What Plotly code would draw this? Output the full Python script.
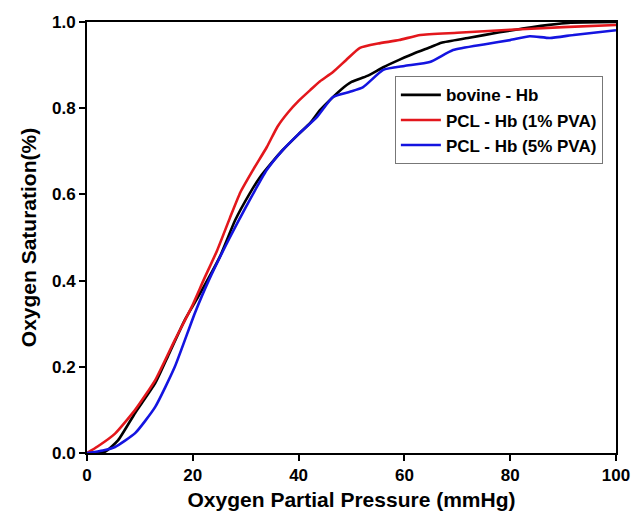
import plotly.graph_objects as go

bovine_x = [0, 3.4, 5.9, 9.1, 12.9, 15.5, 18.5, 21, 25.1, 28, 30.8, 32.7, 35, 37, 40, 42.2, 44, 46, 48, 50, 53, 56, 59, 62, 65, 67, 72, 78, 84, 91, 100]
bovine_y = [0, 0.003, 0.03, 0.093, 0.162, 0.23, 0.309, 0.362, 0.455, 0.54, 0.603, 0.64, 0.675, 0.703, 0.74, 0.766, 0.795, 0.82, 0.843, 0.861, 0.875, 0.895, 0.912, 0.928, 0.942, 0.952, 0.963, 0.976, 0.988, 0.998, 1.0]

pva1_x = [0, 2, 5.3, 9.1, 12.9, 16.6, 19.8, 22, 24.6, 27, 29, 31.4, 34, 36, 38, 40, 42.2, 44, 46.5, 49, 51.6, 55, 59, 63, 70, 80, 90, 100]
pva1_y = [0, 0.015, 0.045, 0.1, 0.169, 0.262, 0.339, 0.4, 0.47, 0.545, 0.605, 0.657, 0.71, 0.757, 0.79, 0.817, 0.842, 0.862, 0.884, 0.912, 0.94, 0.95, 0.958, 0.97, 0.975, 0.982, 0.988, 0.993]

pva5_x = [0, 3, 5.3, 9.1, 12.9, 16.6, 20.4, 23, 27, 30, 34, 37, 40, 43.5, 46.5, 49.7, 52.2, 56, 60, 64.8, 69.2, 75, 80, 83.7, 87.5, 92, 100]
pva5_y = [0, 0.006, 0.014, 0.046, 0.107, 0.2, 0.325, 0.4, 0.5, 0.57, 0.657, 0.703, 0.74, 0.78, 0.826, 0.838, 0.849, 0.889, 0.898, 0.907, 0.935, 0.948, 0.958, 0.967, 0.963, 0.97, 0.981]

x_ticks = [0, 20, 40, 60, 80, 100]
y_ticks = [0, 0.2, 0.4, 0.6, 0.8, 1.0]
y_tick_text = ["0.0", "0.2", "0.4", "0.6", "0.8", "1.0"]

names = ["bovine - Hb", "PCL - Hb (1% PVA)", "PCL - Hb (5% PVA)"]
colors = ["#000000", "#e3171c", "#1414e0"]

fig = go.Figure()
for (xs, ys), name, c in zip([(bovine_x, bovine_y), (pva1_x, pva1_y), (pva5_x, pva5_y)], names, colors):
    fig.add_trace(go.Scatter(x=xs, y=ys, mode="lines", name=name,
                             line=dict(color=c, width=2.6, shape="spline", smoothing=0.5)))

font_family = "Liberation Sans, Arial, sans-serif"
fig.update_layout(
    width=634, height=519,
    margin=dict(l=87, r=18, t=22, b=66, autoexpand=False),
    paper_bgcolor="white", plot_bgcolor="white",
    font=dict(family=font_family, color="black"),
    showlegend=True,
    legend=dict(x=0.582, y=0.874, xanchor="left", yanchor="top",
                bordercolor="#777777", borderwidth=1, bgcolor="white",
                font=dict(size=17, family=font_family, weight="bold"),
                tracegroupgap=0, itemwidth=40),
)
fig.update_xaxes(range=[0, 100], tickvals=x_ticks, automargin=False,
                 showgrid=False, zeroline=False, showline=True, linecolor="black", linewidth=2,
                 mirror=True, ticks="outside", ticklen=6, tickwidth=2, tickcolor="black",
                 tickfont=dict(size=17, family=font_family, weight="bold"),
                 title=dict(text="Oxygen Partial Pressure (mmHg)", font=dict(size=21, family=font_family, weight="bold"), standoff=8))
fig.update_yaxes(range=[0, 1.0], tickvals=y_ticks, ticktext=y_tick_text, automargin=False,
                 showgrid=False, zeroline=False, showline=True, linecolor="black", linewidth=2,
                 mirror=True, ticks="outside", ticklen=6, tickwidth=2, tickcolor="black",
                 tickfont=dict(size=17, family=font_family, weight="bold"),
                 title=dict(text="Oxygen Saturation(%)", font=dict(size=21, family=font_family, weight="bold"), standoff=10))

fig.write_html("out.html")
